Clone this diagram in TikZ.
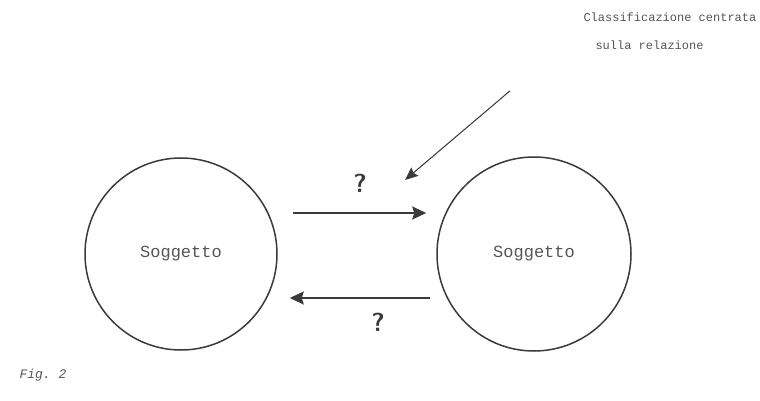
\documentclass[tikz,border=0pt]{standalone}
\usepackage{fontspec}
\setmonofont{Liberation Mono}
\usepackage{xcolor}
\usetikzlibrary{arrows.meta}
\definecolor{scancolor}{HTML}{3a3a3a}
\definecolor{textcolor}{HTML}{555555}

\begin{document}
\begin{tikzpicture}

        \useasboundingbox (0pt, 0pt) rectangle (760pt, -401pt);

        % Circles
        \node [draw = scancolor, circle, line width = 1.5pt, minimum size = 192pt, text = textcolor, font = \ttfamily\fontsize{17}{20}\selectfont] (l) at (181pt, -254pt) {Soggetto};
        \node [draw = scancolor, circle, line width = 1.5pt, minimum size = 194pt, text = textcolor, font = \ttfamily\fontsize{17}{20}\selectfont] (r) at (534pt, -254pt) {Soggetto};

        % Labels
        \node [anchor = north west, align = left, text = textcolor, font = \ttfamily\fontsize{12}{28}\selectfont] (note) at (580pt, -9pt) {Classificazione centrata\\\hspace{12pt}sulla relazione};
        \node [font = \bfseries\sffamily\fontsize{26}{28}\selectfont, text = scancolor] (q1) at (360pt, -183pt) {?};
        \node [font = \bfseries\sffamily\fontsize{26}{28}\selectfont, text = scancolor] (q2) at (378pt, -322pt) {?};
        \node [anchor = west, text = textcolor, font = \ttfamily\itshape\fontsize{13}{15}\selectfont] (fig) at (16pt, -375pt) {Fig. 2};

        \coordinate (tip) at (405pt, -180pt);

        % Relations
        \draw [->, > = {Stealth[length = 14pt, width = 13pt, inset = 2pt]}, line width = 2pt, draw = scancolor, fill = scancolor] ([xshift = 15pt, yshift = 41pt] l.east) -- ([xshift = -10pt, yshift = 41pt] r.west);
        \draw [->, > = {Stealth[length = 14pt, width = 13pt, inset = 2pt]}, line width = 2pt, draw = scancolor, fill = scancolor] ([xshift = -6pt, yshift = -44pt] r.west) -- ([xshift = 12pt, yshift = -44pt] l.east);

        % Pointer
        \draw [->, > = {Stealth[length = 13pt, width = 11pt, inset = 2pt]}, line width = 1pt, draw = scancolor, fill = scancolor] ([xshift = -160pt, yshift = -38pt] note.south) -- (tip);

\end{tikzpicture}
\end{document}
